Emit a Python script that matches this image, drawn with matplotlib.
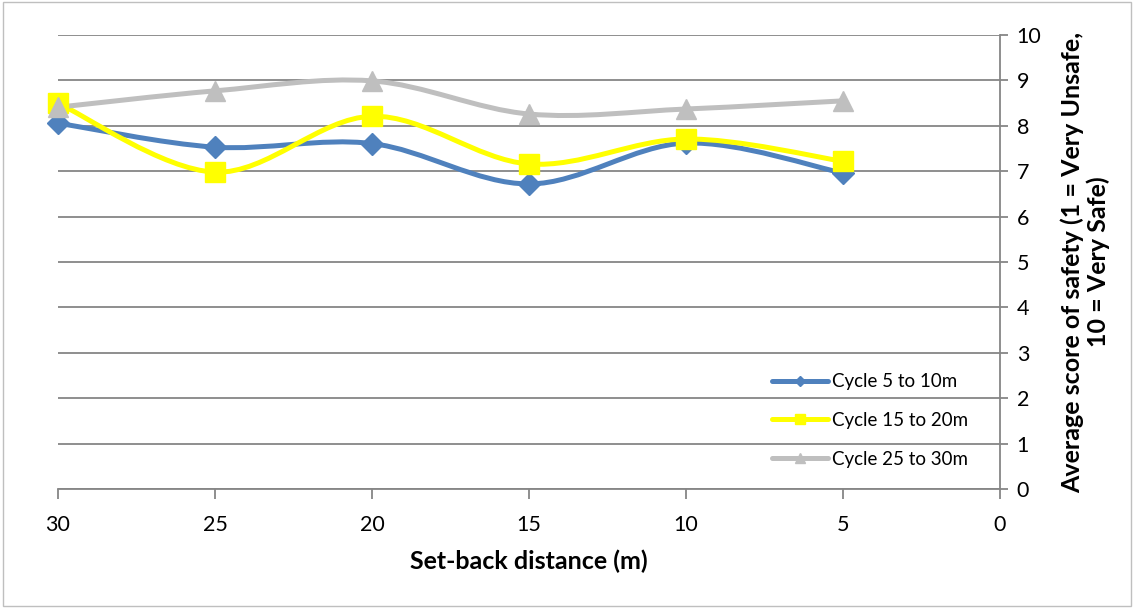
import numpy as np
import matplotlib.pyplot as plt
from matplotlib.path import Path
from matplotlib.patches import PathPatch, Rectangle
from matplotlib.lines import Line2D

plt.rcParams['font.family'] = ['Lato', 'DejaVu Sans']

distance = [30, 25, 20, 15, 10, 5]
cycle_5_10 = [8.06, 7.53, 7.61, 6.72, 7.62, 6.96]
cycle_15_20 = [8.50, 6.98, 8.21, 7.16, 7.71, 7.22]
cycle_25_30 = [8.41, 8.77, 8.99, 8.26, 8.37, 8.55]
labels = ['Cycle 5 to 10m', 'Cycle 15 to 20m', 'Cycle 25 to 30m']
colors = ['#4F81BD', '#FFFF00', '#BFBFBF']
markers = ['D', 's', '^']
msizes = [11, 14, 14]


def smooth_path(x, y):
    # excel style smoothed line: cubic bezier through the points
    pts = np.column_stack([x, y]).astype(float)
    n = len(pts)
    verts = [pts[0]]
    codes = [Path.MOVETO]
    for i in range(n - 1):
        p0 = pts[i - 1] if i > 0 else pts[i]
        p1 = pts[i]
        p2 = pts[i + 1]
        p3 = pts[i + 2] if i + 2 < n else pts[i + 1]
        verts += [p1 + (p2 - p0) / 6, p2 - (p3 - p1) / 6, p2]
        codes += [Path.CURVE4] * 3
    return Path(verts, codes)


fig = plt.figure(figsize=(11.34, 6.08), dpi=100)
ax = fig.add_axes([0.0511, 0.1957, 0.8307, 0.7467])

for yv, c, m, ms in zip([cycle_5_10, cycle_15_20, cycle_25_30], colors, markers, msizes):
    ax.add_patch(PathPatch(smooth_path(distance, yv), fill=False, edgecolor=c,
                           lw=3.6, capstyle='round', joinstyle='round', clip_on=False))
    ax.plot(distance, yv, ls='none', marker=m, ms=ms, color=c, mec=c, clip_on=False)

ax.set_xlim(30, 0)
ax.set_ylim(0, 10)
ax.set_xticks(range(30, -1, -5))
ax.set_yticks(range(0, 11))
ax.yaxis.tick_right()
ax.yaxis.set_label_position('right')
ax.grid(axis='y', color='#868686', lw=1.3)
ax.set_axisbelow(True)
for s in ['top', 'left']:
    ax.spines[s].set_visible(False)
for s in ['right', 'bottom']:
    ax.spines[s].set_color('#868686')
    ax.spines[s].set_linewidth(1.3)
ax.tick_params(axis='x', direction='out', length=7, width=1.3, color='#868686',
               labelsize=15.5, pad=12)
ax.tick_params(axis='y', direction='out', length=6, width=1.3, color='#868686',
               labelsize=15.5, pad=6)
ax.set_xlabel('Set-back distance (m)', fontsize=18, fontweight='bold', labelpad=10)
ax.set_ylabel('Average score of safety (1 = Very Unsafe,\n10 = Very Safe)',
              fontsize=18, fontweight='bold', labelpad=14, linespacing=1.1)

handles = [Line2D([], [], color=c, lw=3.6, marker=m, ms=ms * 0.5, solid_capstyle='round')
           for c, m, ms in zip(colors, markers, msizes)]
ax.legend(handles, labels, loc='lower left', bbox_to_anchor=(0.74, 0.01),
          frameon=False, fontsize=13.5, handlelength=3.0, handletextpad=0.2,
          labelspacing=1.15)

fig.patches.append(Rectangle((0.003, 0.004), 0.994, 0.992, transform=fig.transFigure,
                             fill=False, edgecolor='#BFBFBF', lw=1))

fig.savefig('out.png', dpi=100)
